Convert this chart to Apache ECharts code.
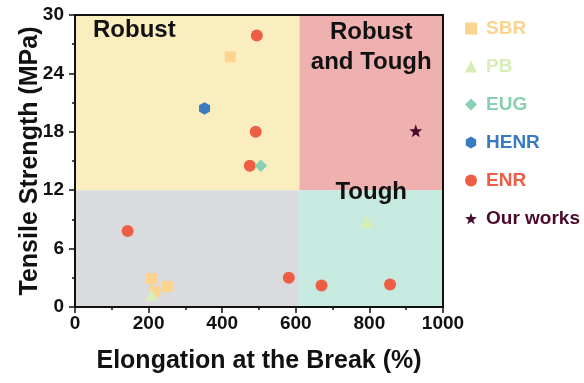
<!DOCTYPE html>
<html>
<head>
<meta charset="utf-8">
<script src="https://cdn.jsdelivr.net/npm/echarts@6/dist/echarts.min.js"></script>
<style>
  html, body { margin: 0; padding: 0; background: #fff; }
  #chart { width: 584px; height: 383px; }
</style>
</head>
<body>
<div id="chart"></div>
<script>
// Elongation at break (%) vs tensile strength (MPa), one list per material
const sbrPoints = [[422, 25.7], [208, 2.9], [217, 1.6], [251, 2.1]];
const pbPoints = [[208, 1.2], [793, 8.7]];
const eugPoints = [[505, 14.5]];
const henrPoints = [[352, 20.4]];
const enrPoints = [[494, 27.9], [491, 18.0], [475, 14.5], [143, 7.8], [581, 3.0], [670, 2.2], [856, 2.3]];
const oursPoints = [[926, 18.1]];

// Property zones: split at 610 % elongation and 12 MPa strength
const elongationSplit = 610;
const strengthSplit = 12;

const xTicks = [0, 200, 400, 600, 800, 1000];
const yTicks = [0, 6, 12, 18, 24, 30];

const FONT = "'Liberation Sans', Arial, sans-serif";
const HEX = 'path://M0,-10L8.66,-5L8.66,5L0,10L-8.66,5L-8.66,-5Z';
const STAR = 'path://M0,-10L2.35,-3.24L9.51,-3.09L3.8,1.24L5.88,8.09L0,4L-5.88,8.09L-3.8,1.24L-9.51,-3.09L-2.35,-3.24Z';

const colors = {
  SBR: '#FDD48F',
  PB: '#D8EDB8',
  EUG: '#88D0B1',
  HENR: '#3A7BBF',
  ENR: '#EE5E44',
  'Our works': '#4A0B2B'
};

const zoneLabel = {
  color: '#111',
  fontFamily: FONT,
  fontWeight: 'bold',
  fontSize: 24
};

const chart = echarts.init(document.getElementById('chart'), null, { renderer: 'canvas' });

const xBase = {
  type: 'value', min: xTicks[0], max: xTicks[xTicks.length - 1], interval: 200,
  z: 4
};
const yBase = {
  type: 'value', min: yTicks[0], max: yTicks[yTicks.length - 1], interval: 6,
  z: 4
};

chart.setOption({
  animation: false,
  backgroundColor: '#fff',
  grid: { left: 75, right: 141, top: 15, bottom: 76 },
  legend: {
    orient: 'vertical',
    left: 460,
    top: 14,
    itemWidth: 12,
    itemHeight: 12,
    itemGap: 19,
    data: Object.keys(colors).map(name => ({
      name,
      textStyle: { color: colors[name] }
    })),
    textStyle: {
      fontFamily: FONT,
      fontWeight: 'bold',
      fontSize: 19,
      padding: [0, 0, 0, 4]
    }
  },
  xAxis: [
    Object.assign({}, xBase, {
      position: 'bottom',
      name: 'Elongation at the Break (%)',
      nameLocation: 'middle',
      nameGap: 42,
      nameMoveOverlap: false,
      nameTextStyle: { color: '#111', fontFamily: FONT, fontWeight: 'bold', fontSize: 25 },
      axisLine: { show: true, onZero: false, lineStyle: { color: '#111', width: 2 } },
      axisTick: { show: true, inside: false, length: 6, lineStyle: { color: '#111', width: 1.5 } },
      minorTick: { show: true, splitNumber: 2, length: 3, lineStyle: { color: '#111', width: 1.5 } },
      axisLabel: { margin: 7, color: '#111', fontFamily: FONT, fontWeight: 'bold', fontSize: 19,
        formatter: v => String(v) },
      splitLine: { show: false }
    }),
    Object.assign({}, xBase, {
      position: 'top',
      axisLine: { show: true, onZero: false, lineStyle: { color: '#111', width: 2 } },
      axisTick: { show: false },
      axisLabel: { show: false },
      splitLine: { show: false }
    })
  ],
  yAxis: [
    Object.assign({}, yBase, {
      position: 'left',
      name: 'Tensile Strength (MPa)',
      nameLocation: 'middle',
      nameGap: 32,
      nameMoveOverlap: false,
      nameTextStyle: { color: '#111', fontFamily: FONT, fontWeight: 'bold', fontSize: 25 },
      axisLine: { show: true, onZero: false, lineStyle: { color: '#111', width: 2 } },
      axisTick: { show: true, inside: false, length: 6, lineStyle: { color: '#111', width: 1.5 } },
      minorTick: { show: true, splitNumber: 2, length: 3, lineStyle: { color: '#111', width: 1.5 } },
      axisLabel: { margin: 11, color: '#111', fontFamily: FONT, fontWeight: 'bold', fontSize: 19 },
      splitLine: { show: false }
    }),
    Object.assign({}, yBase, {
      position: 'right',
      axisLine: { show: true, onZero: false, lineStyle: { color: '#111', width: 2 } },
      axisTick: { show: false },
      axisLabel: { show: false },
      splitLine: { show: false }
    })
  ],
  series: [
    {
      // background zones
      type: 'scatter',
      name: 'zones',
      data: [],
      silent: true,
      z: 1,
      markArea: {
        silent: true,
        data: [
          [
            { xAxis: xTicks[0], yAxis: strengthSplit, itemStyle: { color: '#FBEEBE' },
              label: Object.assign({ show: true, position: [18, 3], formatter: 'Robust' }, zoneLabel) },
            { xAxis: elongationSplit, yAxis: yTicks[yTicks.length - 1] }
          ],
          [
            { xAxis: elongationSplit, yAxis: strengthSplit, itemStyle: { color: '#EEB1AF' },
              label: Object.assign({ show: true, position: ['50%', 2], align: 'center', verticalAlign: 'top',
                lineHeight: 30, formatter: 'Robust\nand Tough' }, zoneLabel) },
            { xAxis: xTicks[xTicks.length - 1], yAxis: yTicks[yTicks.length - 1] }
          ],
          [
            { xAxis: xTicks[0], yAxis: yTicks[0], itemStyle: { color: '#D9DBDF' }, label: { show: false } },
            { xAxis: elongationSplit, yAxis: strengthSplit }
          ],
          [
            { xAxis: elongationSplit, yAxis: yTicks[0], itemStyle: { color: '#C6EADF' },
              label: Object.assign({ show: true, position: ['50%', 2], align: 'center', verticalAlign: 'middle',
                formatter: 'Tough' }, zoneLabel) },
            { xAxis: xTicks[xTicks.length - 1], yAxis: strengthSplit }
          ]
        ]
      }
    },
    { type: 'scatter', name: 'SBR', data: sbrPoints, symbol: 'rect', symbolSize: 11,
      itemStyle: { color: colors.SBR, opacity: 1 }, z: 2 },
    { type: 'scatter', name: 'PB', data: pbPoints, symbol: 'triangle', symbolSize: [14, 12],
      itemStyle: { color: colors.PB, opacity: 1 }, z: 2 },
    { type: 'scatter', name: 'HENR', data: henrPoints, symbol: HEX, symbolSize: [11, 12.5],
      itemStyle: { color: colors.HENR, opacity: 1 }, z: 2 },
    { type: 'scatter', name: 'ENR', data: enrPoints, symbol: 'circle', symbolSize: 12,
      itemStyle: { color: colors.ENR, opacity: 1 }, z: 2 },
    { type: 'scatter', name: 'EUG', data: eugPoints, symbol: 'diamond', symbolSize: 12.5,
      itemStyle: { color: colors.EUG, opacity: 1 }, z: 3 },
    { type: 'scatter', name: 'Our works', data: oursPoints, symbol: STAR, symbolSize: 13,
      itemStyle: { color: colors['Our works'], opacity: 1 }, z: 3 }
  ]
});
</script>
</body>
</html>
